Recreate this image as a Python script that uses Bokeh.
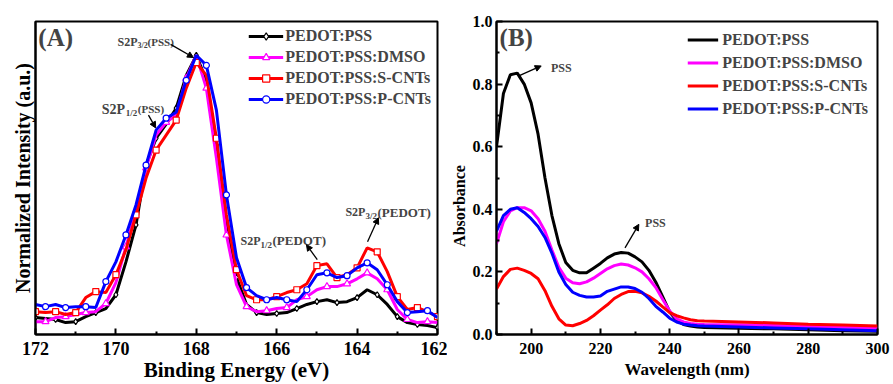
from bokeh.plotting import figure
from bokeh.layouts import row
from bokeh.models import (Range1d, FixedTicker, Legend, LegendItem, Label,
                          Arrow, NormalHead, PrintfTickFormatter)
from bokeh.embed import file_html
from bokeh.resources import INLINE

FONT = "Liberation Serif"

# ---------------- Panel (A): S2p XPS ----------------
energy = [172.00, 171.75, 171.50, 171.25, 171.00, 170.75, 170.50, 170.25,
          170.00, 169.75, 169.50, 169.25, 169.00, 168.75, 168.50, 168.25,
          168.00, 167.75, 167.50, 167.25, 167.00, 166.75, 166.50, 166.25,
          166.00, 165.75, 165.50, 165.25, 165.00, 164.75, 164.50, 164.25,
          164.00, 163.75, 163.50, 163.25, 163.00, 162.75, 162.50, 162.25,
          162.00]

xps_pss = [0.054, 0.051, 0.048, 0.038, 0.041, 0.057, 0.070, 0.083, 0.127,
           0.232, 0.350, 0.541, 0.627, 0.672, 0.723, 0.828, 0.892, 0.812,
           0.605, 0.360, 0.182, 0.096, 0.070, 0.064, 0.067, 0.070, 0.083,
           0.096, 0.105, 0.111, 0.102, 0.105, 0.118, 0.143, 0.127, 0.096,
           0.057, 0.038, 0.032, 0.029, 0.022]
xps_dmso = [0.041, 0.041, 0.054, 0.057, 0.064, 0.070, 0.073, 0.099, 0.166,
            0.280, 0.398, 0.532, 0.637, 0.678, 0.701, 0.818, 0.892, 0.787,
            0.564, 0.318, 0.159, 0.089, 0.073, 0.076, 0.083, 0.086, 0.111,
            0.121, 0.143, 0.153, 0.153, 0.162, 0.178, 0.197, 0.178, 0.143,
            0.080, 0.048, 0.038, 0.041, 0.038]
xps_scnt = [0.073, 0.070, 0.073, 0.064, 0.070, 0.118, 0.137, 0.134, 0.191,
            0.271, 0.382, 0.500, 0.589, 0.637, 0.685, 0.787, 0.869, 0.828,
            0.627, 0.382, 0.207, 0.124, 0.111, 0.111, 0.121, 0.134, 0.143,
            0.162, 0.220, 0.226, 0.182, 0.191, 0.213, 0.277, 0.264, 0.201,
            0.121, 0.080, 0.086, 0.073, 0.057]
xps_pcnt = [0.096, 0.089, 0.096, 0.086, 0.089, 0.089, 0.086, 0.169, 0.232,
            0.318, 0.414, 0.541, 0.653, 0.691, 0.710, 0.812, 0.892, 0.860,
            0.717, 0.446, 0.245, 0.150, 0.124, 0.111, 0.118, 0.111, 0.105,
            0.143, 0.191, 0.197, 0.182, 0.188, 0.213, 0.229, 0.207, 0.159,
            0.105, 0.070, 0.073, 0.076, 0.054]

names = ["PEDOT:PSS", "PEDOT:PSS:DMSO", "PEDOT:PSS:S-CNTs", "PEDOT:PSS:P-CNTs"]
colors = ["black", "#ff00ff", "red", "blue"]
markers = ["diamond", "triangle", "square", "circle"]

xps_ticks = [172, 170, 168, 166, 164, 162]
xps_minor = [171, 169, 167, 165, 163]

# ---------------- Panel (B): UV-vis ----------------
wl = [190, 192, 194, 196, 198, 200, 202, 204, 206, 208, 210, 212, 214, 216,
      218, 220, 222, 224, 226, 228, 230, 232, 234, 236, 238, 240, 242, 244,
      246, 248, 250, 260, 270, 280, 290, 300]
abs_pss = [0.60, 0.77, 0.83, 0.835, 0.80, 0.74, 0.64, 0.50, 0.38, 0.29, 0.23,
           0.205, 0.197, 0.197, 0.212, 0.227, 0.245, 0.257, 0.262, 0.26,
           0.248, 0.232, 0.205, 0.167, 0.12, 0.072, 0.045, 0.032, 0.027,
           0.024, 0.022, 0.020, 0.018, 0.015, 0.012, 0.010]
abs_dmso = [0.29, 0.36, 0.395, 0.405, 0.405, 0.395, 0.37, 0.33, 0.27, 0.215,
            0.18, 0.165, 0.162, 0.168, 0.18, 0.195, 0.21, 0.22, 0.225, 0.222,
            0.213, 0.20, 0.178, 0.15, 0.112, 0.075, 0.05, 0.04, 0.035, 0.033,
            0.032, 0.031, 0.029, 0.026, 0.023, 0.021]
abs_scnt = [0.145, 0.185, 0.208, 0.212, 0.205, 0.195, 0.178, 0.14, 0.09, 0.05,
            0.03, 0.028, 0.035, 0.045, 0.06, 0.078, 0.095, 0.115, 0.128,
            0.137, 0.138, 0.133, 0.122, 0.107, 0.088, 0.07, 0.06, 0.053,
            0.047, 0.044, 0.043, 0.04, 0.037, 0.033, 0.03, 0.027]
abs_pcnt = [0.33, 0.38, 0.40, 0.405, 0.39, 0.37, 0.345, 0.31, 0.26, 0.20,
            0.16, 0.135, 0.125, 0.12, 0.12, 0.123, 0.138, 0.145, 0.152, 0.152,
            0.147, 0.135, 0.115, 0.09, 0.072, 0.052, 0.04, 0.033, 0.03, 0.028,
            0.027, 0.024, 0.021, 0.018, 0.015, 0.012]

uv_xticks = [200, 220, 240, 260, 280, 300]
uv_xminor = [190, 210, 230, 250, 270, 290]
uv_yticks = [0.0, 0.2, 0.4, 0.6, 0.8, 1.0]
uv_yminor = [0.1, 0.3, 0.5, 0.7, 0.9]


def style_axis(ax, size_lbl, size_title):
    ax.axis_line_width = 2
    ax.major_tick_in = 6
    ax.major_tick_out = 0
    ax.minor_tick_in = 3
    ax.minor_tick_out = 0
    ax.major_tick_line_width = 2
    ax.minor_tick_line_width = 2
    ax.major_label_text_font = FONT
    ax.major_label_text_font_style = "bold"
    ax.major_label_text_font_size = size_lbl
    ax.axis_label_text_font = FONT
    ax.axis_label_text_font_style = "bold"
    ax.axis_label_text_font_size = size_title
    ax.major_label_text_color = "black"
    ax.axis_label_text_color = "black"


def sub_label(p, x, y, main, sub, tail, w_main, w_sub, fs_main, fs_sub, fs_tail):
    p.add_layout(Label(x=x, y=y, text=main, text_font=FONT, text_font_style="bold",
                       text_font_size=fs_main, text_baseline="alphabetic"))
    p.add_layout(Label(x=x, y=y, x_offset=w_main, y_offset=-4, text=sub,
                       text_font=FONT, text_font_style="bold",
                       text_font_size=fs_sub, text_baseline="alphabetic"))
    p.add_layout(Label(x=x, y=y, x_offset=w_main + w_sub, text=tail,
                       text_font=FONT, text_font_style="bold",
                       text_font_size=fs_tail, text_baseline="alphabetic"))


# ---------------- figure A ----------------
pa = figure(width=447, height=384, output_backend="svg", toolbar_location=None,
            x_range=Range1d(172, 162), y_range=Range1d(0, 1),
            min_border_left=35, min_border_right=10, min_border_top=21,
            min_border_bottom=49)
pa.grid.visible = False
pa.outline_line_color = "black"
pa.outline_line_width = 2
pa.outline_line_alpha = 1

series_a = [xps_pss, xps_dmso, xps_scnt, xps_pcnt]
items = []
for k, (ys, c, m, n) in enumerate(zip(series_a, colors, markers, names)):
    lr = pa.line(energy, ys, line_color=c, line_width=3)
    idx = list(range(k % 2, len(energy), 2))
    sr = pa.scatter([energy[i] for i in idx], [ys[i] for i in idx], marker=m,
                    size=6 if m != "triangle" else 7, line_color=c,
                    fill_color="white", line_width=1.2)
    items.append(LegendItem(label=n, renderers=[lr, sr]))

leg_a = Legend(items=items, location="top_right", border_line_color=None,
               background_fill_alpha=0, label_text_font=FONT,
               label_text_font_style="bold", label_text_font_size="16px",
               glyph_width=35, glyph_height=18, label_height=18, spacing=3,
               padding=0, margin=6, label_standoff=2)
pa.add_layout(leg_a)

style_axis(pa.xaxis[0], "18px", "21px")
pa.xaxis.ticker = FixedTicker(ticks=xps_ticks, minor_ticks=xps_minor)
pa.xaxis.axis_label = "Binding Energy (eV)"
pa.xaxis.major_label_standoff = 7
pa.xaxis.axis_label_standoff = 0

style_axis(pa.yaxis[0], "18px", "20px")
pa.yaxis.ticker = FixedTicker(ticks=[])
pa.yaxis.axis_label = "Normalized Intensity (a.u.)"
pa.yaxis.axis_label_standoff = 2

pa.add_layout(Label(x=171.93, y=0.905, text="(A)", text_font=FONT,
                    text_font_style="bold", text_font_size="25px"))

sub_label(pa, 169.96, 0.935, "S2P", "3/2", "(PSS)", 20, 10, "12px", "8px", "11px")
sub_label(pa, 170.35, 0.72, "S2P", "1/2", "(PSS)", 24, 12, "14px", "9px", "11px")
sub_label(pa, 166.90, 0.30, "S2P", "1/2", "(PEDOT)", 20, 12, "12px", "9px", "13px")
sub_label(pa, 164.29, 0.39, "S2P", "3/2", "(PEDOT)", 20, 12, "12px", "9px", "13px")

arrow_a = [(168.64, 0.927, 168.07, 0.885),
           (169.19, 0.701, 169.01, 0.660),
           (164.99, 0.239, 165.26, 0.287),
           (163.74, 0.296, 163.47, 0.373)]
for x0, y0, x1, y1 in arrow_a:
    pa.add_layout(Arrow(x_start=x0, y_start=y0, x_end=x1, y_end=y1,
                        line_width=1.3, line_color="black",
                        end=NormalHead(size=6, fill_color="black", line_color="black")))

# ---------------- figure B ----------------
pb = figure(width=446, height=384, output_backend="svg", toolbar_location=None,
            x_range=Range1d(190, 300), y_range=Range1d(0, 1.0),
            min_border_left=45, min_border_right=16, min_border_top=18,
            min_border_bottom=48)
pb.grid.visible = False
pb.outline_line_color = "black"
pb.outline_line_width = 2
pb.outline_line_alpha = 1

series_b = [abs_pss, abs_dmso, abs_scnt, abs_pcnt]
items_b = []
for ys, c, n in zip(series_b, colors, names):
    r = pb.line(wl, ys, line_color=c, line_width=3)
    items_b.append(LegendItem(label=n, renderers=[r]))

leg_b = Legend(items=items_b, location="top_right", border_line_color=None,
               background_fill_alpha=0, label_text_font=FONT,
               label_text_font_style="bold", label_text_font_size="16px",
               glyph_width=31, glyph_height=19, label_height=19, spacing=4,
               padding=0, margin=9, label_standoff=4)
pb.add_layout(leg_b)

style_axis(pb.xaxis[0], "16px", "17px")
pb.xaxis.ticker = FixedTicker(ticks=uv_xticks, minor_ticks=uv_xminor)
pb.xaxis.axis_label = "Wavelength (nm)"
pb.xaxis.major_label_standoff = 8
pb.xaxis.axis_label_standoff = 3

style_axis(pb.yaxis[0], "16px", "16px")
pb.yaxis.ticker = FixedTicker(ticks=uv_yticks, minor_ticks=uv_yminor)
pb.yaxis.formatter = PrintfTickFormatter(format="%.1f")
pb.yaxis.axis_label = "Absorbance" + "\u00a0" * 14
pb.yaxis.major_label_standoff = 4
pb.yaxis.axis_label_standoff = 2

pb.add_layout(Label(x=190.9, y=0.905, text="(B)", text_font=FONT,
                    text_font_style="bold", text_font_size="25px"))
pb.add_layout(Label(x=205.7, y=0.83, text="PSS", text_font=FONT,
                    text_font_style="bold", text_font_size="12px"))
pb.add_layout(Label(x=232.9, y=0.335, text="PSS", text_font=FONT,
                    text_font_style="bold", text_font_size="12px"))
for x0, y0, x1, y1 in [(196.6, 0.827, 202.9, 0.858), (227.1, 0.277, 231.1, 0.352)]:
    pb.add_layout(Arrow(x_start=x0, y_start=y0, x_end=x1, y_end=y1,
                        line_width=1.3, line_color="black",
                        end=NormalHead(size=6, fill_color="black", line_color="black")))

layout = row(pa, pb)
open("out.html", "w").write(file_html(layout, INLINE))
